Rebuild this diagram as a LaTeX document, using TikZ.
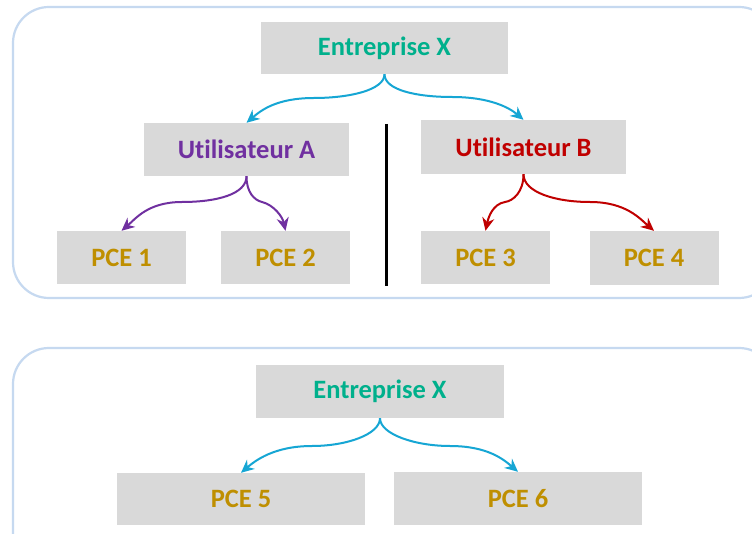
\documentclass[tikz,border=0pt]{standalone}
\usepackage{fontspec}
\setmainfont{Carlito}[Ligatures=NoCommon]
\usetikzlibrary{arrows.meta}
\definecolor{boxgray}{HTML}{D9D9D9}
\definecolor{frameblue}{HTML}{C6D9F0}
\definecolor{entcol}{HTML}{00B08C}
\definecolor{ucolA}{HTML}{7030A0}
\definecolor{ucolB}{HTML}{C00000}
\definecolor{pcecol}{HTML}{BF8F00}
\definecolor{arrblue}{HTML}{16A6D4}
\tikzset{
  gbox/.style={fill=boxgray, draw=none, inner sep=0pt, font=\fontsize{26.5}{30}\selectfont\bfseries},
  frame/.style={draw=frameblue, line width=2.2pt, rounded corners=36pt},
  conn/.style={line width=2pt, -{Stealth[length=13pt,width=12pt]}},
}
\begin{document}
\begin{tikzpicture}[x=1pt,y=-1pt]
\useasboundingbox (0,0) rectangle (752,534);
\clip (0,0) rectangle (752,534);
\fill[white] (0,0) rectangle (752,534);
% containers
\draw[frame] (13,7) rectangle (775,298);
\draw[frame] (13,348) rectangle (775,570);
% top group
\node[gbox, minimum width=247pt, minimum height=52pt, text=entcol] (ent) at (384.5,48) {Entreprise X};
\node[gbox, minimum width=205pt, minimum height=53pt, text=ucolA] (ua) at (246.5,149.5) {Utilisateur A};
\node[gbox, minimum width=205pt, minimum height=54pt, text=ucolB] (ub) at (523.5,147) {Utilisateur B};
\node[gbox, minimum width=129pt, minimum height=53pt, text=pcecol] (p1) at (121.5,257.5) {PCE 1};
\node[gbox, minimum width=129pt, minimum height=53pt, text=pcecol] (p2) at (285.5,257.5) {PCE 2};
\node[gbox, minimum width=129pt, minimum height=53pt, text=pcecol] (p3) at (485.5,257.5) {PCE 3};
\node[gbox, minimum width=129pt, minimum height=54pt, text=pcecol] (p4) at (654,258) {PCE 4};
\coordinate (vt) at (386.5,124);
\coordinate (vb) at (386.5,286);
\draw[line width=3pt, black] (vt) -- (vb);
% top arrows
\draw[conn, arrblue] (ent.south) .. controls +(0,16) and +(35,0) .. (314,98) .. controls +(-38,0) and +(14,-12) .. (ua.north);
\draw[conn, arrblue] (ent.south) .. controls +(0,16) and +(-35,0) .. (452,97) .. controls +(38,0) and +(-14,-12) .. (ub.north);
\draw[conn, ucolA] (ua.south) .. controls +(0,18) and +(35,0) .. (182,202) .. controls +(-34,0) and +(14,-12) .. (p1.north);
\draw[conn, ucolA] (ua.south) .. controls +(0,16) and +(-8,-2) .. (262,202) .. controls +(12,3) and +(-3,-14) .. (p2.north);
\draw[conn, ucolB] (ub.south) .. controls +(0,18) and +(8,-1) .. (505,202) .. controls +(-12,2) and +(3,-14) .. (p3.north);
\draw[conn, ucolB] (ub.south) .. controls +(0,18) and +(-35,0) .. (590,202) .. controls +(36,0) and +(-14,-12) .. (p4.north);
% bottom group
\node[gbox, minimum width=248pt, minimum height=53pt, text=entcol] (ent2) at (380,391.5) {Entreprise X};
\node[gbox, minimum width=248pt, minimum height=52pt, text=pcecol] (p5) at (241,499) {PCE 5};
\node[gbox, minimum width=248pt, minimum height=53pt, text=pcecol] (p6) at (518,498.5) {PCE 6};
\draw[conn, arrblue] (ent2.south) .. controls +(0,16) and +(35,0) .. (312,446) .. controls +(-38,0) and +(14,-12) .. (p5.north);
\draw[conn, arrblue] (ent2.south) .. controls +(0,16) and +(-35,0) .. (450,446) .. controls +(38,0) and +(-14,-12) .. (p6.north);
\end{tikzpicture}
\end{document}
